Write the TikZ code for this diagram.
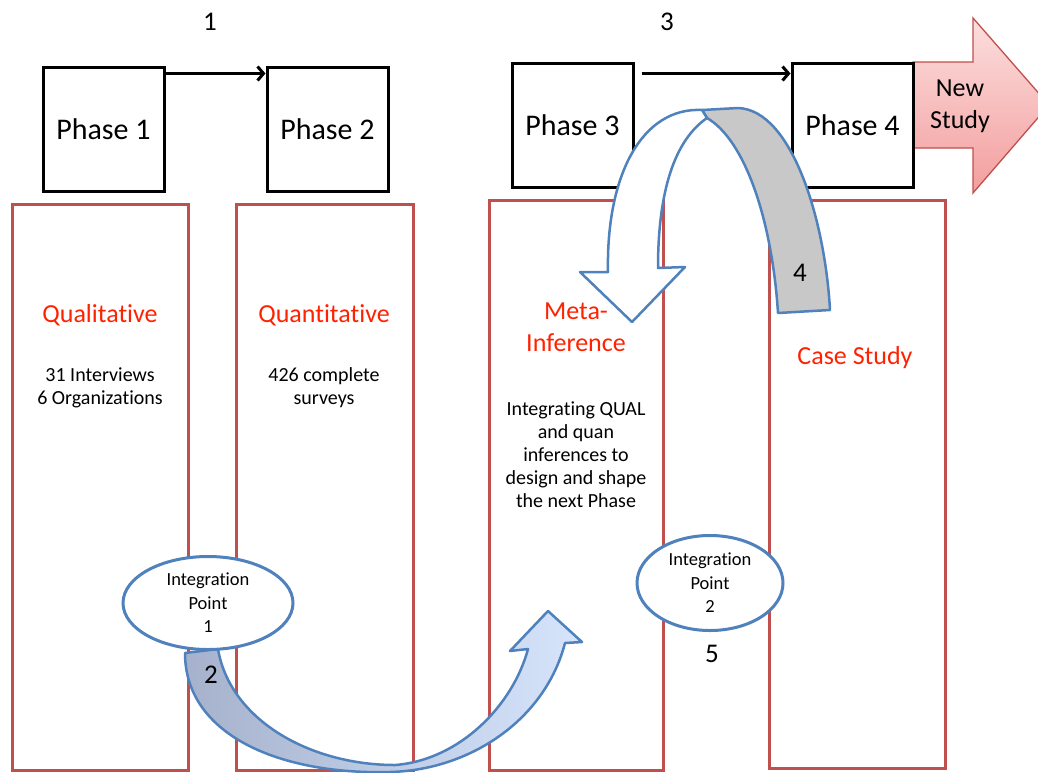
\documentclass[tikz,border=0pt]{standalone}
\usepackage{fontspec}
\setmainfont{Carlito}[Ligatures=NoCommon]
\usetikzlibrary{arrows.meta,shapes.geometric}

\definecolor{colred}{RGB}{192,80,77}
\definecolor{labelred}{RGB}{255,34,0}
\definecolor{ipblue}{RGB}{79,129,189}
\definecolor{foldgray}{RGB}{200,200,200}
\definecolor{pinktop}{RGB}{252,222,222}
\definecolor{pinkbot}{RGB}{243,158,158}
\definecolor{bandleft}{RGB}{166,178,204}
\definecolor{bandmid}{RGB}{122,152,208}
\definecolor{bandright}{RGB}{214,228,252}

\begin{document}
\begin{tikzpicture}[x=1pt,y=-1pt,
  phasebox/.style={draw=black, line width=3pt, minimum width=121pt,
    minimum height=124pt, inner sep=0pt, font=\fontsize{30}{36}\selectfont},
  colbox/.style={draw=colred, line width=3pt, inner sep=0pt},
  redlabel/.style={text=labelred, align=center, inner sep=0pt,
    font=\fontsize{26}{32}\selectfont},
  bodytext/.style={align=center, inner sep=0pt, font=\fontsize{20}{23}\selectfont},
  ipshape/.style={ellipse, draw=ipblue, line width=3pt, fill=white, inner sep=0pt},
  iptext/.style={align=center, inner sep=0pt, font=\fontsize{18.5}{23.5}\selectfont},
  numlabel/.style={inner sep=0pt, font=\fontsize{27}{30}\selectfont},
  flow/.style={line width=3pt, -{Straight Barb[length=6pt,width=14pt]}},
  band/.style={draw=ipblue, line width=2.5pt, line join=round}
]
\useasboundingbox (0,0) rectangle (1038,772);
\clip (0,0) rectangle (1038,772);
\fill[white] (0,0) rectangle (1038,772);

% step numbers above the phases
\node[numlabel] (n1) at (210,22) {1};
\node[numlabel] (n3) at (667,22) {3};

% red method columns
\node[colbox, minimum width=176pt, minimum height=566pt] (col1) at (100,487) {};
\node[colbox, minimum width=177pt, minimum height=566pt] (col2) at (324.5,487) {};
\node[colbox, minimum width=174pt, minimum height=570pt] (col3) at (576,485) {};
\node[colbox, minimum width=176pt, minimum height=568pt] (col4) at (857,484) {};

% forward arrow to the next study
\path[draw=colred, line width=1.3pt, top color=pinktop, bottom color=pinkbot]
  (913,62) -- (973,62) -- (973,18) -- (1049,105) -- (973,193) -- (973,148)
  -- (913,148) -- cycle;
\node[align=center, inner sep=0pt, font=\fontsize{26}{32}\selectfont]
  (newstudy) at (960,106) {New\\Study};

% phase boxes
\node[phasebox] (p1) at (103.5,129) {Phase 1};
\node[phasebox] (p2) at (327.5,129) {Phase 2};
\node[phasebox] (p3) at (572.5,125) {Phase 3};
\node[phasebox] (p4) at (852.5,125) {Phase 4};

\draw[flow] ([yshift=-8pt]p1.north east) -- ([yshift=-8pt]p2.north west);
\draw[flow] ([xshift=7pt,yshift=-12pt]p3.north east) -- ([yshift=-12pt]p4.north west);

% column texts
\node[redlabel] (qual) at (100,315) {Qualitative};
\node[bodytext] (qualtxt) at (100,388) {31 Interviews\\6 Organizations};
\node[redlabel] (quan) at (324,315) {Quantitative};
\node[bodytext] (quantxt) at (324,388) {426 complete\\surveys};
\node[redlabel] (meta) at (576,327) {Meta-\\Inference};
\node[bodytext] (metatxt) at (576,455) {Integrating QUAL\\and quan\\inferences to\\design and shape\\the next Phase};
\node[redlabel] (case) at (855,358) {Case Study};

% curved arrow from integration point 1 into the meta-inference column
\path[band, left color=bandleft, middle color=bandmid, right color=bandright]
  (185,653) .. controls (185,735) and (280,775) .. (390,772)
  .. controls (470,770) and (545,720) .. (565,643)
  -- (582,642) -- (548,611) -- (510,651) -- (528,649)
  .. controls (513,705) and (460,760) .. (395,765)
  .. controls (310,765) and (230,720) .. (218,649) -- cycle;
\node[numlabel] (n2) at (211,675) {2};

% folded arrow from phase 4 back into phase 3
\path[band, fill=foldgray]
  (778,313) .. controls (772,220) and (745,140) .. (707,118)
  -- (702,110) -- (738,108)
  .. controls (792,110) and (825,220) .. (830,310) -- cycle;
\path[band, fill=white]
  (702,110) .. controls (642,107) and (606,175) .. (608,272)
  -- (580,272) -- (632,322) -- (685,267) -- (658,268)
  .. controls (658,190) and (675,140) .. (707,118) -- cycle;
\node[numlabel] (n4) at (800,273) {4};

% integration points
\node[ipshape, minimum width=170pt, minimum height=93pt] (ip1) at (208,603) {};
\node[iptext] (ip1txt) at (ip1) {Integration\\Point\\1};
\node[ipshape, minimum width=146pt, minimum height=95pt] (ip2) at (710,583) {};
\node[iptext] (ip2txt) at (ip2) {Integration\\Point\\2};
\node[numlabel] (n5) at (712,654) {5};
\end{tikzpicture}
\end{document}
